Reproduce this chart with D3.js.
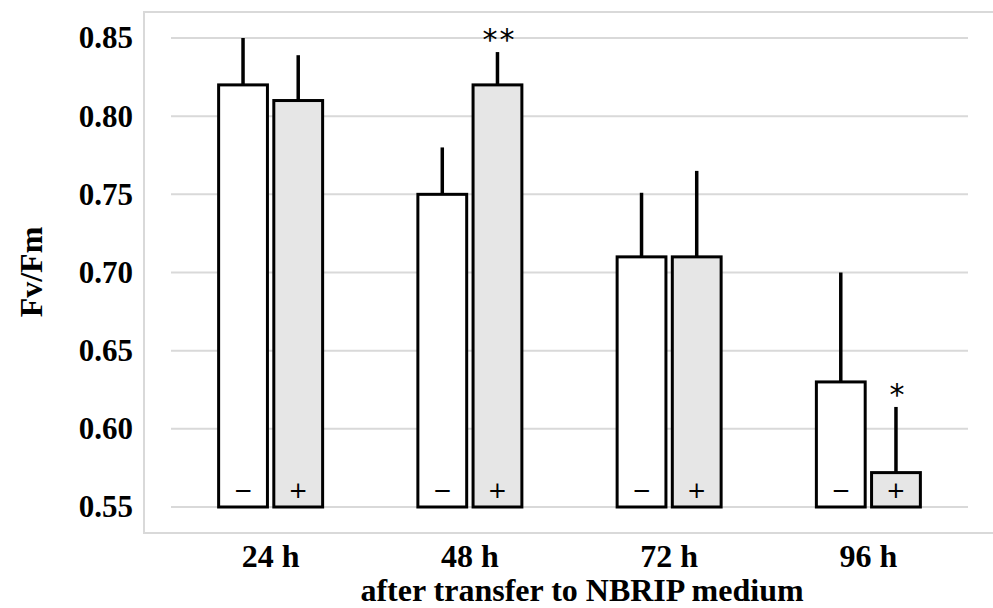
<!DOCTYPE html>
<html><head><meta charset="utf-8">
<script src="https://cdn.jsdelivr.net/npm/d3@7"></script>
<style>body{margin:0;background:#fff}svg{display:block}</style>
</head><body>
<script>
const categories = ["24 h", "48 h", "72 h", "96 h"];
const treatments = ["−", "+"];
const minusValues = [0.82, 0.75, 0.71, 0.63];
const minusErrTop = [0.85, 0.78, 0.751, 0.70];
const plusValues = [0.81, 0.82, 0.71, 0.572];
const plusErrTop = [0.839, 0.841, 0.765, 0.614];
const plusSignif = ["", "**", "", "*"];
const yTicks = [0.55, 0.60, 0.65, 0.70, 0.75, 0.80, 0.85];

const W = 993, H = 608;
const svg = d3.select("body").append("svg").attr("width", W).attr("height", H);
const x0 = 171, x1 = 968, yTop = 38, yBot = 507;
const y = d3.scaleLinear().domain([0.55, 0.85]).range([yBot, yTop]);
const x = d3.scaleBand().domain(categories).range([x0, x1]).paddingInner(0).paddingOuter(0);
const xs = d3.scaleBand().domain(treatments).range([0, 104]).paddingInner(12/104);

// frame
svg.append("rect").attr("x", 144).attr("y", 12).attr("width", 860).attr("height", 521)
  .attr("fill", "none").attr("stroke", "#d9d9d9").attr("stroke-width", 2);

// grid
svg.append("g").selectAll("line").data(yTicks).join("line")
  .attr("x1", x0).attr("x2", x1).attr("y1", d => y(d)).attr("y2", d => y(d))
  .attr("stroke", "#d9d9d9").attr("stroke-width", 2);

// y axis labels
const yAxis = d3.axisLeft(y).tickValues(yTicks).tickFormat(d3.format(".2f")).tickSize(0).tickPadding(0);
const ga = svg.append("g").attr("transform", "translate(133,0)").call(yAxis);
ga.select(".domain").remove();
ga.selectAll("text").attr("font-family", "Liberation Serif").attr("font-weight", "bold")
  .attr("font-size", 31).attr("fill", "#000");

// x labels
const xAxis = d3.axisBottom(x).tickSize(0).tickPadding(0);
const gx = svg.append("g").attr("transform", "translate(0,544)").call(xAxis);
gx.select(".domain").remove();
gx.selectAll("text").attr("font-family", "Liberation Serif").attr("font-weight", "bold")
  .attr("font-size", 32).attr("fill", "#000").attr("dy", "0.71em");

svg.append("text").attr("x", 582).attr("y", 601).attr("text-anchor", "middle")
  .attr("font-family", "Liberation Serif").attr("font-weight", "bold").attr("font-size", 32)
  .text("after transfer to NBRIP medium");
svg.append("text").attr("transform", "translate(42,272) rotate(-90)").attr("text-anchor", "middle")
  .attr("font-family", "Liberation Serif").attr("font-weight", "bold").attr("font-size", 32)
  .text("Fv/Fm");

const data = [];
categories.forEach((c, i) => {
  data.push({cat: c, t: "−", v: minusValues[i], e: minusErrTop[i], s: "", fill: "#ffffff"});
  data.push({cat: c, t: "+", v: plusValues[i], e: plusErrTop[i], s: plusSignif[i], fill: "#e6e6e6"});
});
const groupOff = (x.bandwidth() - 104) / 2;
const bx = d => x(d.cat) + groupOff + xs(d.t);
const bw = xs.bandwidth();

const g = svg.append("g");
// error bars
g.selectAll("line.err").data(data).join("line").attr("class", "err")
  .attr("x1", d => bx(d) + bw / 2).attr("x2", d => bx(d) + bw / 2)
  .attr("y1", d => y(d.v)).attr("y2", d => y(d.e))
  .attr("stroke", "#000").attr("stroke-width", 3.5);
g.selectAll("rect.bar").data(data).join("rect").attr("class", "bar")
  .attr("x", d => bx(d)).attr("width", bw)
  .attr("y", d => y(d.v)).attr("height", d => y(0.55) - y(d.v))
  .attr("fill", d => d.fill).attr("stroke", "#000").attr("stroke-width", 3);
g.selectAll("text.sign").data(data).join("text").attr("class", "sign")
  .attr("x", d => bx(d) + bw / 2).attr("y", 498).attr("text-anchor", "middle")
  .attr("font-family", "DejaVu Sans").attr("font-size", 23).attr("fill", "#000")
  .text(d => d.t);
g.selectAll("text.sig").data(data.filter(d => d.s)).join("text").attr("class", "sig")
  .attr("x", d => bx(d) + bw / 2 + 2).attr("y", d => y(d.e) - 2).attr("text-anchor", "middle")
  .attr("font-family", "DejaVu Sans").attr("font-size", 30).attr("letter-spacing", 2).attr("fill", "#000")
  .text(d => d.s);
</script>
</body></html>
